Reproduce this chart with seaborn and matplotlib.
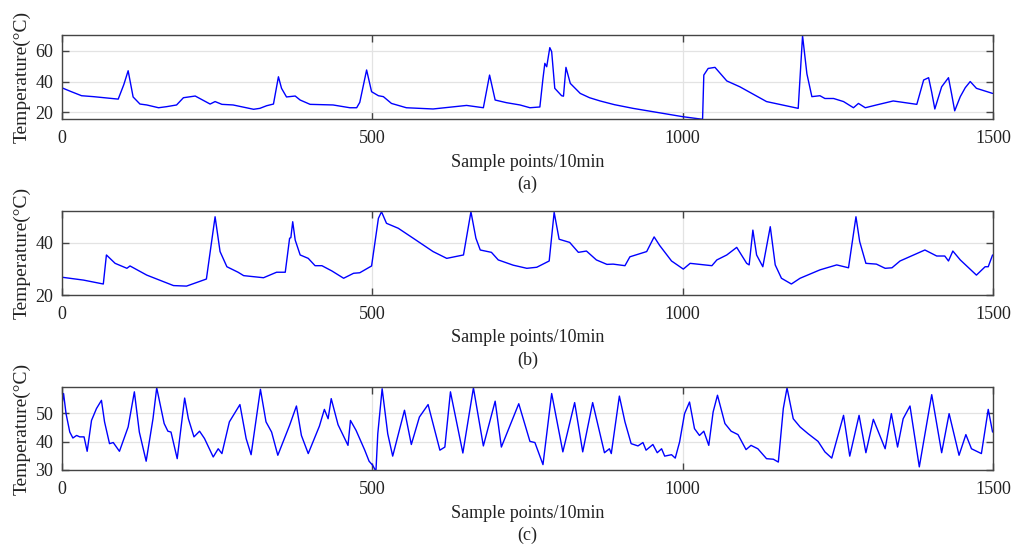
import numpy as np
import pandas as pd
import matplotlib
matplotlib.use("Agg")
import matplotlib.pyplot as plt
import matplotlib.transforms as mtransforms
import seaborn as sns

# ---- data (sample index, temperature) ----
xa = [0, 15, 32, 51, 91, 100, 107, 115, 126, 137, 156, 169, 185, 196, 215, 239, 247, 258, 276,
      309, 319, 330, 341, 349, 354, 362, 376, 384, 400, 437, 464, 475, 480, 491, 499, 510,
      518, 531, 555, 598, 652, 679, 689, 698, 716, 738, 754, 770, 775, 778, 781, 786, 789,
      794, 805, 808, 812, 819, 835, 850, 867, 890, 920, 960, 1000, 1032, 1034, 1041, 1052,
      1071, 1092, 1135, 1186, 1193, 1200, 1208, 1221, 1229, 1243, 1259, 1275, 1283, 1294,
      1312, 1339, 1377, 1388, 1396, 1401, 1406, 1417, 1428, 1433, 1438, 1447, 1455, 1463,
      1473, 1499]
ya = [36.0, 33.5, 30.8, 30.2, 28.6, 38.0, 47.0, 30.0, 25.4, 24.8, 23.0, 23.7, 24.8, 29.5,
      30.6, 25.4, 27.0, 25.2, 24.8, 22.0, 22.6, 24.3, 25.4, 43.1, 35.6, 30.0, 30.6, 28.0,
      25.2, 24.8, 23.0, 23.0, 26.5, 47.5, 33.4, 30.8, 30.2, 25.8, 23.0, 22.2, 24.5, 23.0,
      44.2, 28.0, 26.3, 24.8, 23.0, 23.5, 42.0, 51.8, 49.6, 62.0, 59.4, 35.6, 30.8, 30.5,
      49.2, 38.8, 32.3, 29.5, 27.4, 25.0, 22.6, 19.9, 17.2, 15.5, 44.2, 48.5, 49.2, 40.4,
      36.6, 27.0, 22.6, 69.7, 45.0, 30.2, 30.8, 29.0, 29.0, 27.0, 23.0, 25.8, 23.0, 24.8,
      27.4, 25.2, 41.0, 42.5, 33.0, 22.2, 36.6, 42.5, 32.0, 21.0, 30.2, 36.0, 40.0, 35.6,
      32.3]

xb = [0, 35, 67, 72, 86, 105, 110, 137, 180, 201, 233, 247, 255, 266, 284, 293, 325, 346,
      360, 367, 369, 372, 376, 384, 397, 408, 419, 435, 454, 470, 480, 499, 510, 515, 523,
      542, 566, 598, 620, 647, 659, 667, 674, 692, 703, 727, 749, 765, 785, 793, 801, 818,
      832, 845, 861, 878, 888, 907, 915, 942, 954, 963, 982, 1001, 1012, 1047, 1055, 1071,
      1087, 1103, 1107, 1113, 1119, 1129, 1141, 1149, 1159, 1175, 1189, 1221, 1248, 1267,
      1279, 1285, 1295, 1312, 1326, 1337, 1350, 1390, 1409, 1422, 1428, 1435, 1447, 1473,
      1487, 1492, 1499]
yb = [26.8, 25.7, 24.2, 35.3, 32.1, 30.2, 31.1, 27.6, 23.6, 23.4, 26.1, 49.9, 36.6, 30.8,
      28.7, 27.4, 26.6, 28.7, 28.7, 41.7, 41.9, 48.0, 41.0, 35.3, 34.0, 31.2, 31.2, 29.2,
      26.4, 28.3, 28.5, 31.1, 49.3, 51.8, 47.4, 45.5, 41.7, 36.6, 34.0, 35.3, 51.8, 41.7,
      37.2, 36.3, 33.4, 31.4, 30.2, 30.6, 33.0, 51.6, 41.3, 40.1, 36.3, 36.8, 33.4, 31.7,
      31.8, 31.2, 34.6, 36.6, 42.2, 38.9, 33.0, 29.9, 32.1, 31.2, 33.4, 35.3, 38.2, 32.1,
      31.5, 44.8, 35.3, 30.8, 46.1, 31.5, 26.4, 24.2, 26.4, 29.6, 31.5, 30.4, 49.9, 40.4,
      32.1, 31.8, 30.2, 30.4, 33.0, 37.2, 34.9, 34.9, 33.0, 36.8, 33.4, 27.6, 30.8, 30.8,
      35.3]

xc = [0, 3, 7, 13, 18, 24, 29, 36, 41, 48, 56, 64, 69, 77, 83, 93, 107, 117, 125, 136, 147,
      153, 165, 171, 176, 186, 198, 204, 213, 222, 230, 244, 252, 258, 270, 287, 297, 305,
      320, 329, 338, 348, 367, 378, 386, 397, 415, 423, 429, 434, 445, 461, 465, 474, 488,
      495, 501, 506, 509, 516, 525, 533, 552, 563, 576, 590, 609, 617, 626, 646, 663, 679,
      698, 708, 736, 754, 762, 775, 789, 807, 826, 839, 855, 874, 882, 885, 898, 907, 917,
      928, 936, 941, 952, 959, 966, 971, 982, 988, 995, 1003, 1011, 1019, 1027, 1034, 1042,
      1049, 1056, 1068, 1078, 1089, 1102, 1110, 1121, 1135, 1146, 1154, 1162, 1168, 1178,
      1189, 1202, 1218, 1229, 1240, 1259, 1269, 1284, 1295, 1307, 1326, 1336, 1346, 1355,
      1366, 1381, 1401, 1417, 1429, 1445, 1456, 1465, 1481, 1492, 1499]
yc = [52.3, 57.0, 49.9, 43.4, 41.3, 42.2, 41.7, 41.7, 36.6, 47.5, 51.7, 54.6, 47.0, 39.3,
      39.7, 36.6, 45.2, 57.6, 43.4, 33.1, 48.1, 59.0, 46.4, 43.7, 43.4, 34.0, 55.4, 48.1,
      41.7, 43.7, 41.1, 34.6, 37.5, 35.8, 47.0, 53.1, 41.1, 35.4, 58.5, 47.0, 43.4, 35.2,
      45.8, 52.6, 42.2, 35.8, 45.5, 51.4, 48.1, 55.2, 46.0, 38.7, 47.5, 44.0, 37.0, 33.1,
      31.6, 29.5, 42.8, 58.7, 42.8, 34.9, 51.1, 39.0, 48.7, 53.1, 37.0, 38.1, 57.6, 36.0,
      59.0, 38.5, 54.3, 38.1, 53.4, 40.1, 39.7, 31.9, 57.0, 36.4, 53.8, 36.4, 53.8, 36.1,
      37.5, 35.8, 56.1, 47.0, 39.3, 38.5, 39.7, 37.0, 39.0, 36.1, 37.5, 34.9, 35.4, 34.2,
      39.9, 49.9, 54.0, 44.6, 42.2, 43.7, 38.7, 50.5, 56.4, 46.4, 43.7, 42.5, 37.2, 38.7,
      37.5, 34.0, 33.8, 32.8, 51.7, 59.0, 48.1, 45.2, 42.8, 40.1, 36.4, 34.2, 49.3, 34.9,
      49.3, 36.1, 47.9, 37.5, 49.9, 38.1, 48.1, 52.6, 31.1, 56.6, 36.1, 49.9, 35.2, 42.5,
      37.5, 35.8, 51.4, 43.4]

panels = [("(a)", xa, ya, (15.5, 70.2), [20, 40, 60]),
          ("(b)", xb, yb, (20, 52.1), [20, 40]),
          ("(c)", xc, yc, (30, 59.2), [30, 40, 50])]
xticks = [0, 500, 1000, 1500]

sns.set_theme(style="whitegrid")
plt.rcParams["font.family"] = ["Liberation Serif", "DejaVu Serif"]

W, H = 1024, 545
fig = plt.figure(figsize=(W / 100, H / 100), dpi=100)
# axes boxes in pixels: left, top, right, bottom
pix = [(61.7, 35.0, 993.2, 119.3),
       (61.7, 211.0, 993.2, 295.0),
       (61.7, 387.3, 993.2, 470.0)]

for (tag, xs, ys, ylim, yticks), (l, t, r, b) in zip(panels, pix):
    ax = fig.add_axes((l / W, 1 - b / H, (r - l) / W, (b - t) / H))
    hpx = b - t
    df = pd.DataFrame({"x": xs, "y": ys})
    sns.lineplot(data=df, x="x", y="y", ax=ax, color="#0000ff", lw=1.0,
                 estimator=None, sort=False)
    for ln in ax.lines:
        ln.set_solid_joinstyle("round")
    ax.set_xlim(0, 1500)
    ax.set_ylim(*ylim)
    ax.set_xticks(xticks)
    ax.set_yticks(yticks)
    ax.set_facecolor("white")
    ax.grid(True, color="#e3e3e3", lw=0.9)
    for s in ax.spines.values():
        s.set_color("#444444")
        s.set_linewidth(1.0)
        s.set_visible(True)
    ax.tick_params(axis="both", which="major", direction="in", length=5, width=1.0,
                   color="#444444", labelsize=13, labelcolor="#222222",
                   top=True, right=True, bottom=True, left=True, pad=6)
    ax.tick_params(axis="x", pad=8)
    ax.set_xlabel("Sample points/10min", fontsize=13, color="#222222", va="center")
    ax.xaxis.set_label_coords(0.5, -43.0 / hpx)
    ax.set_ylabel("Temperature(°C)", fontsize=14, color="#222222", va="center")
    ax.yaxis.set_label_coords((22 - l) / (r - l), 0.5)
    ax.text(0.5, -65.0 / hpx, tag, transform=ax.transAxes, ha="center", va="center",
            fontsize=13, color="#222222")

fig.savefig("out.png", dpi=100)
